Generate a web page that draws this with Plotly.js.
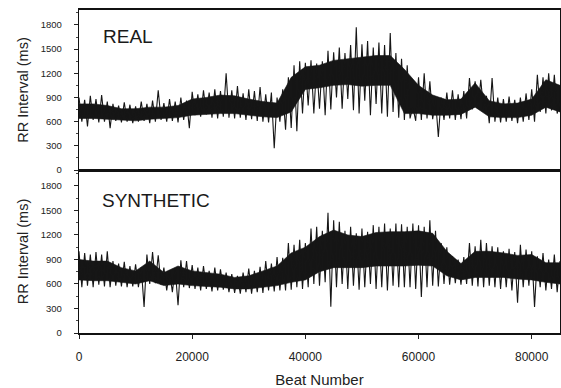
<!DOCTYPE html>
<html><head><meta charset="utf-8">
<script src="https://cdn.plot.ly/plotly-3.0.1.min.js"></script>
<style>html,body{margin:0;padding:0;background:#fff}</style>
</head><body><div id="chart" style="width:561px;height:388px"></div>
<script>
// Envelope of the dark core band, read every 2500 beats
const coreStep = 2500;
const realCoreHi = [820,820,800,760,760,780,780,800,880,900,930,920,880,850,830,1150,1280,1300,1360,1380,1400,1420,1420,1250,1050,930,870,880,1080,860,820,830,880,1120,1050];
const realCoreLo = [640,640,630,620,610,630,640,650,680,690,700,700,680,660,650,720,1000,1020,1050,1060,1040,1050,1050,700,700,680,680,690,780,660,650,650,680,780,720];
const synthCoreHi = [900,880,880,800,760,880,740,820,760,740,720,680,700,760,820,980,1050,1180,1260,1200,1180,1230,1240,1240,1250,1220,1000,850,1000,1000,980,950,960,860,860];
const synthCoreLo = [650,640,640,620,600,640,580,600,580,570,560,540,540,560,580,620,650,750,800,800,800,820,820,820,830,820,700,650,680,680,680,660,650,620,600];
// Extreme excursions (spikes), read every 1000 beats
const peakStep = 1000;
const realPeakHi = [900,870,920,880,930,850,820,800,840,810,
 790,850,820,860,990,830,880,850,900,860,
 970,940,990,960,1000,980,1200,990,1040,950,
 1000,980,1030,940,960,900,1000,1150,1300,1350,
 1330,1360,1320,1350,1480,1460,1520,1450,1550,1770,
 1560,1600,1520,1580,1550,1700,1450,1380,1300,780,
 1150,1200,1100,880,900,960,990,940,980,1140,
 1100,1120,920,1140,900,880,910,870,900,950,
 1000,1180,1150,1200,1180,850];
const realPeakLo = [600,540,620,590,600,520,610,590,600,580,
 600,610,580,600,620,600,610,590,620,520,
 680,660,690,650,640,660,650,640,650,620,
 630,610,600,590,270,600,500,520,480,700,
 800,700,760,680,750,900,760,880,740,700,
 860,680,820,700,660,720,650,620,640,610,
 620,640,630,410,620,640,620,630,640,750,
 760,740,580,600,590,600,610,580,600,620,
 600,720,700,740,700,285];
const synthPeakHi = [1000,980,960,990,960,1000,880,850,870,820,
 840,800,960,990,950,800,770,790,890,880,
 830,800,820,760,800,780,740,720,700,740,
 790,760,810,880,850,930,920,1100,1080,1140,
 1100,1280,1300,1250,1470,1380,1360,1250,1300,1220,
 1280,1240,1320,1300,1340,1280,1340,1330,1300,1340,
 1320,1300,1380,1250,1100,1050,940,900,930,1100,
 1060,1140,1100,1060,1050,1000,1030,990,1080,1020,
 1000,940,980,900,960,880];
const synthPeakLo = [560,580,560,590,570,560,580,570,560,570,
 560,320,600,610,590,520,500,340,560,550,
 540,520,540,510,520,530,500,490,480,500,
 480,500,490,520,510,520,520,530,560,540,
 560,600,580,620,320,560,600,540,580,530,
 560,600,540,560,520,580,560,560,560,540,
 440,560,580,570,600,590,610,590,600,580,
 570,560,580,560,540,560,520,370,560,580,
 320,560,520,540,500,560];
const yTicks = [0,300,600,900,1200,1500,1800];
const yTickText = ['0','300','600','900','1200','1500','1800'];
const xTicks = [0,20000,40000,60000,80000];
const xTickText = ['0','20000','40000','60000','80000'];
const panelLabels = ['REAL','SYNTHETIC'];

const ink = '#161616';
function coreTrace(hi, lo, xa, ya){
  const xs = [], ys = [];
  hi.forEach((v,i)=>{xs.push(i*coreStep); ys.push(v);});
  for(let i=lo.length-1;i>=0;i--){xs.push(i*coreStep); ys.push(lo[i]);}
  return {x:xs, y:ys, xaxis:xa, yaxis:ya, type:'scatter', mode:'lines', fill:'toself',
    fillcolor:ink, line:{color:ink, width:0.6}, hoverinfo:'skip', showlegend:false};
}
function peakTrace(hi, lo, xa, ya){
  const xs = [], ys = [];
  hi.forEach((v,i)=>{xs.push(i*peakStep); ys.push(v); xs.push(i*peakStep+peakStep/2); ys.push(lo[i]);});
  return {x:xs, y:ys, xaxis:xa, yaxis:ya, type:'scatter', mode:'lines',
    line:{color:ink, width:1.1}, hoverinfo:'skip', showlegend:false};
}
const data = [
  coreTrace(realCoreHi, realCoreLo, 'x', 'y'),
  peakTrace(realPeakHi, realPeakLo, 'x', 'y'),
  coreTrace(synthCoreHi, synthCoreLo, 'x2', 'y2'),
  peakTrace(synthPeakHi, synthPeakLo, 'x2', 'y2')
];
const font = 'Liberation Sans, Arial, sans-serif';
const split = 163/323;
const yCommon = {
  tickmode:'array', tickvals:yTicks, ticktext:yTickText, ticks:'outside', ticklen:4,
  tickcolor:'#222', tickwidth:1, ticklabelstandoff:10,
  minor:{ticks:'outside', ticklen:2, dtick:150, tickcolor:'#444'},
  showline:true, linecolor:'#111', linewidth:1.2, mirror:true,
  showgrid:false, zeroline:false, tickfont:{family:font, size:9.5, color:'#222'},
  title:{text:'RR Interval (ms)', font:{family:font, size:14.5, color:'#222'}, standoff:8}
};
const layout = {
  width:561, height:388, margin:{l:79, r:1, t:10, b:55},
  paper_bgcolor:'#fff', plot_bgcolor:'#fff', font:{family:font, color:'#222'},
  xaxis:{anchor:'y', domain:[0,1], range:[0,85000], showline:true, linecolor:'#111', linewidth:2,
    mirror:true, showticklabels:false, ticks:'', showgrid:false, zeroline:false},
  yaxis:Object.assign({}, yCommon, {anchor:'x', domain:[split,1], range:[0,1985]}),
  xaxis2:{anchor:'y2', domain:[0,1], range:[0,85000], tickmode:'array', tickvals:xTicks, ticktext:xTickText,
    ticks:'outside', ticklen:4, tickcolor:'#222', ticklabelstandoff:8,
    showline:true, linecolor:'#111', linewidth:1.5, mirror:true, showgrid:false, zeroline:false,
    tickfont:{family:font, size:12, color:'#222'},
    title:{text:'Beat Number', font:{family:font, size:15, color:'#222'}, standoff:13}},
  yaxis2:Object.assign({}, yCommon, {anchor:'x2', domain:[0,split], range:[0,1995]}),
  annotations:[
    {text:panelLabels[0], xref:'paper', yref:'paper', x:22/482, y:(333-37)/323, xanchor:'left', yanchor:'middle',
      showarrow:false, font:{family:font, size:19, color:'#1a1a1a'}},
    {text:panelLabels[1], xref:'paper', yref:'paper', x:21/482, y:(333-200)/323, xanchor:'left', yanchor:'middle',
      showarrow:false, font:{family:font, size:19, color:'#1a1a1a'}}
  ]
};
Plotly.newPlot('chart', data, layout, {displayModeBar:false, staticPlot:true});
</script></body></html>
